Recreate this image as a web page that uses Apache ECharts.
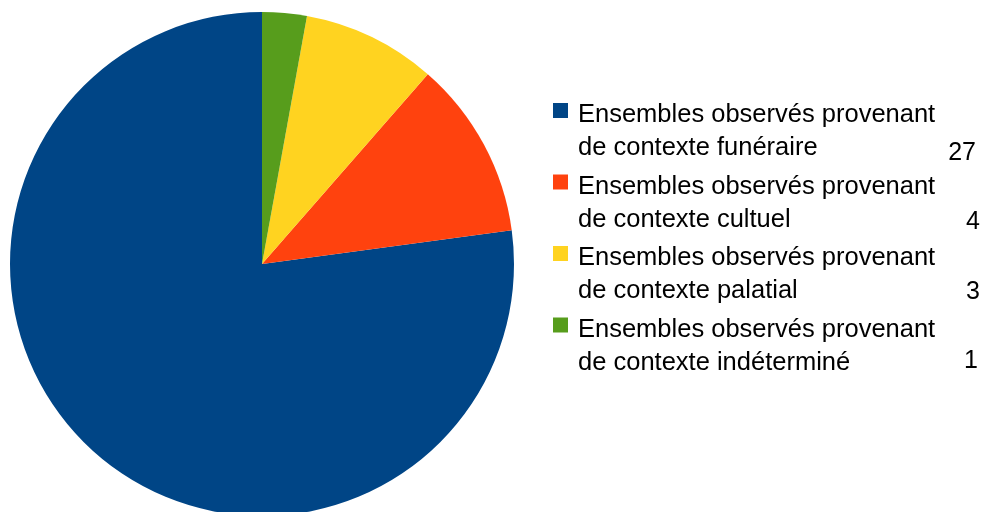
<!DOCTYPE html>
<html>
<head>
<meta charset="utf-8">
<script src="https://cdn.jsdelivr.net/npm/echarts@6/dist/echarts.min.js"></script>
<style>
html,body{margin:0;padding:0;background:#fff;}
#c{width:985px;height:512px;}
</style>
</head>
<body>
<div id="c"></div>
<script>
var categories = [
  "Ensembles observés provenant\nde contexte funéraire",
  "Ensembles observés provenant\nde contexte cultuel",
  "Ensembles observés provenant\nde contexte palatial",
  "Ensembles observés provenant\nde contexte indéterminé"
];
var values = [27, 4, 3, 1];
var colors = ["#004586", "#ff420e", "#ffd320", "#579d1c"];

var chart = echarts.init(document.getElementById('c'), null, {renderer: 'canvas'});
var font = '"Liberation Sans", Arial, sans-serif';

var graphics = [];
var itemTop = 97, itemStep = 71.5;
var valueOffsets = [56.5, 53.5, 52.5, 50];
var valueRight = [976, 980, 980, 978];
categories.forEach(function (cat, i) {
  var top = itemTop + i * itemStep;
  graphics.push({
    type: 'rect',
    shape: {x: 553, y: top + 6, width: 15, height: 15},
    style: {fill: colors[i]}
  });
  graphics.push({
    type: 'text',
    x: 578, y: top + 1.5,
    style: {
      text: cat,
      font: '25.5px ' + font,
      lineHeight: 33,
      fill: '#000',
      verticalAlign: 'top',
      align: 'left'
    }
  });
  graphics.push({
    type: 'text',
    x: valueRight[i], y: top + valueOffsets[i],
    style: {
      text: String(values[i]),
      font: '25px ' + font,
      fill: '#000',
      verticalAlign: 'middle',
      align: 'right'
    }
  });
});

chart.setOption({
  animation: false,
  backgroundColor: '#ffffff',
  color: colors,
  series: [{
    type: 'pie',
    center: [262, 264],
    radius: [0, 252],
    startAngle: 90,
    clockwise: false,
    label: {show: false},
    labelLine: {show: false},
    emphasis: {disabled: true},
    itemStyle: {borderWidth: 0},
    data: categories.map(function (c, i) { return {name: c, value: values[i]}; })
  }],
  graphic: graphics
});
</script>
</body>
</html>
